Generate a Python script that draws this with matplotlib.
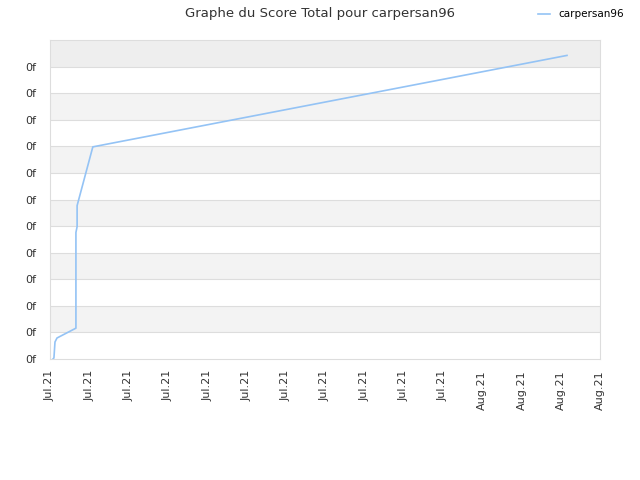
import matplotlib
matplotlib.use("Agg")
import matplotlib.pyplot as plt
from matplotlib.ticker import FixedLocator, FuncFormatter

# data (x in tick units, y in grid units)
xs = [0.076, 0.10, 0.127, 0.178, 0.66, 0.66, 0.69, 0.69, 1.09, 13.16]
ys = [0.0, 0.04, 0.64, 0.79, 1.16, 4.76, 4.98, 5.77, 7.98, 11.42]
xlabels = ["Jul.21"] * 11 + ["Aug.21"] * 4
player = "carpersan96"

fig = plt.figure(figsize=(6.4, 4.8), dpi=100)
ax = fig.add_axes([50/640, 121/480, 550/640, 319/480])

# striped background
for k in range(12):
    if k == 11:
        c = "#eeeeee"
    elif k % 2 == 1:
        c = "#f3f3f3"
    else:
        c = "white"
    ax.axhspan(k, k + 1, color=c, zorder=0, lw=0)
for k in range(1, 12):
    ax.axhline(k, color="#dddddd", lw=0.8, zorder=1)

ax.plot(xs, ys, color="#94c3f5", lw=1.2, zorder=3, label=player)

ax.set_xlim(0, 14)
ax.set_ylim(0, 12)
ax.xaxis.set_major_locator(FixedLocator(range(15)))
ax.set_xticklabels(xlabels, rotation=90, fontsize=8, color="#333333")
ax.yaxis.set_major_locator(FixedLocator(range(12)))
ax.yaxis.set_major_formatter(FuncFormatter(lambda v, p: "0f"))
ax.tick_params(axis="y", labelsize=8, labelcolor="#333333", length=0, pad=10)
ax.tick_params(axis="x", length=0, pad=8)
for s in ax.spines.values():
    s.set_color("#dddddd")

fig.text(0.5, 0.972, "Graphe du Score Total pour carpersan96", ha="center",
         va="center", fontsize=9.5, color="#333333")
fig.legend(loc="upper right", bbox_to_anchor=(0.99, 1.0), frameon=False,
           fontsize=7.5, handlelength=1.2)

fig.savefig("out.png", dpi=100)
